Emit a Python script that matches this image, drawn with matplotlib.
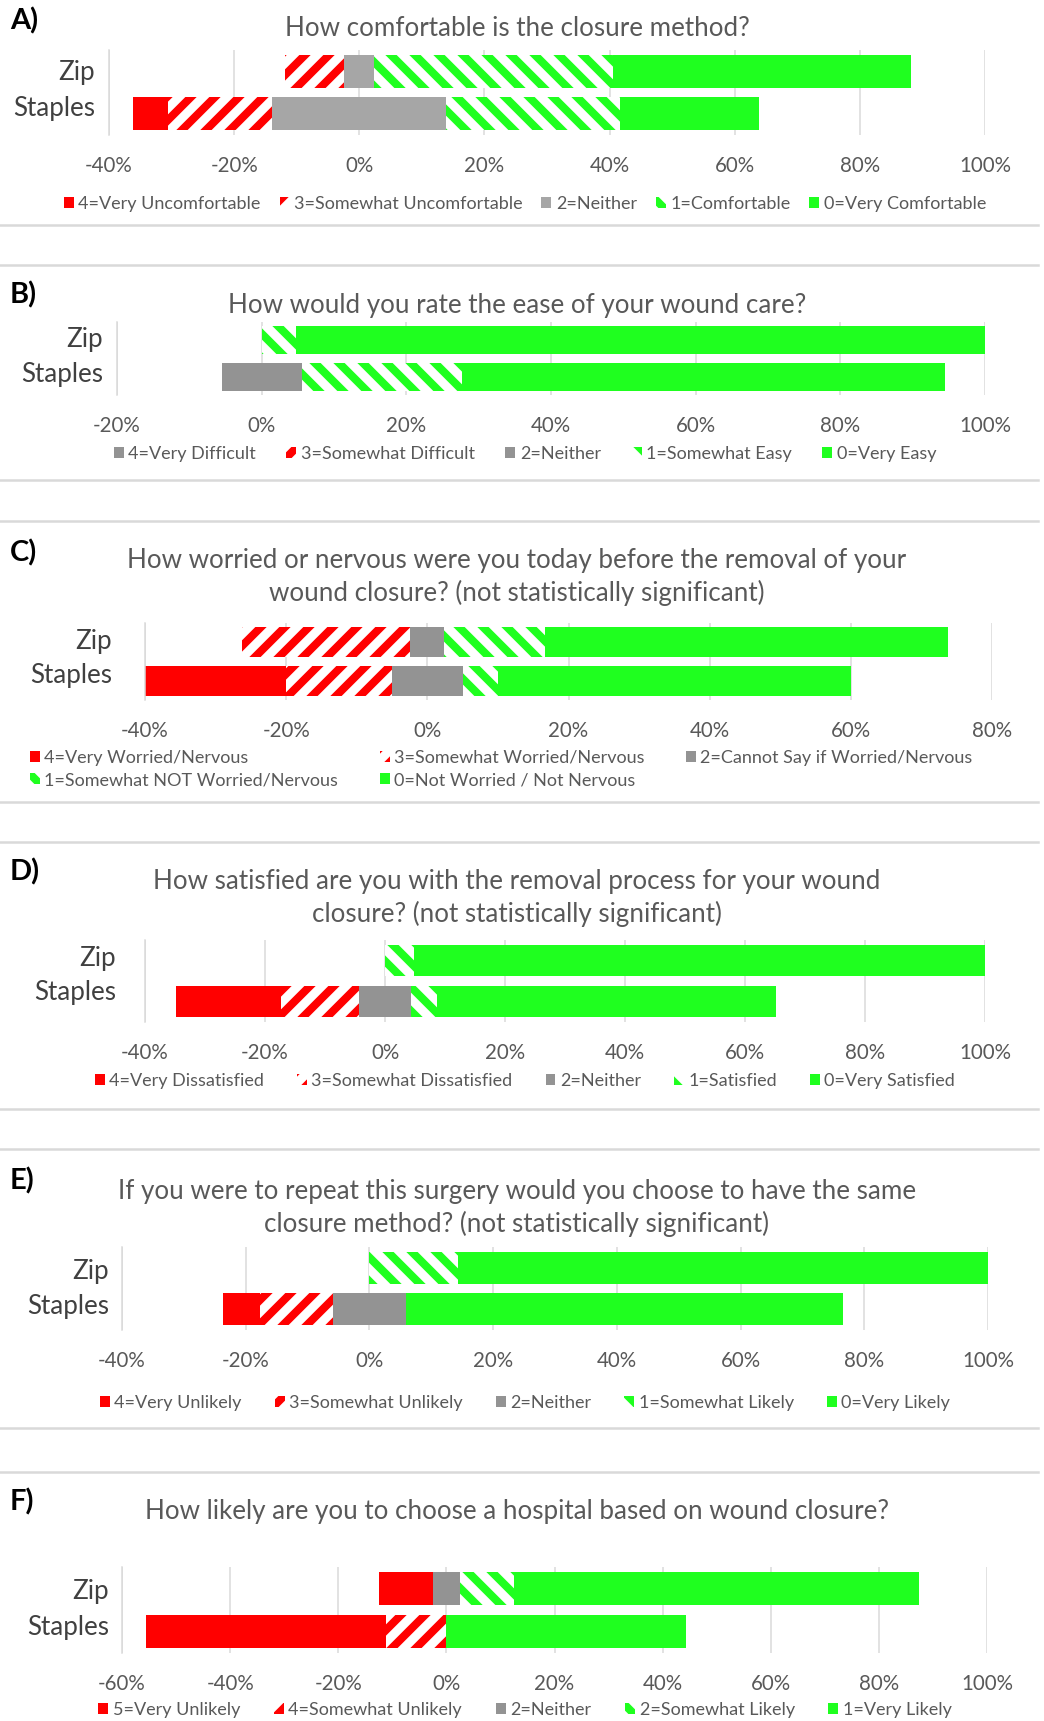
import matplotlib
matplotlib.use("Agg")
import matplotlib.pyplot as plt
from matplotlib.patches import Patch
from matplotlib.lines import Line2D

W, H, DPI = 1044, 1721, 144


def pt(px):
    """pixels -> points at the figure dpi"""
    return px * 72 / DPI


RED = "#FF0000"
GREEN = "#1FFF1F"
GRAY_LIGHT = "#A6A6A6"
GRAY = "#939393"
GRID = "#D9D9D9"
TEXT = "#595959"

# ---- data (percent of respondents per answer; order: worst ... best) ----
a_title = "How comfortable is the closure method?"
a_labels = ["4=Very Uncomfortable", "3=Somewhat Uncomfortable", "2=Neither",
            "1=Comfortable", "0=Very Comfortable"]
a_zip = [0.0, 9.5, 4.8, 38.1, 47.6]
a_staples = [5.6, 16.7, 27.8, 27.8, 22.2]

b_title = "How would you rate the ease of your wound care?"
b_labels = ["4=Very Difficult", "3=Somewhat Difficult", "2=Neither",
            "1=Somewhat Easy", "0=Very Easy"]
b_zip = [0.0, 0.0, 0.0, 4.8, 95.2]
b_staples = [0.0, 0.0, 11.1, 22.2, 66.7]

c_title = ("How worried or nervous were you today before the removal of your\n"
           "wound closure? (not statistically significant)")
c_labels = ["4=Very Worried/Nervous", "3=Somewhat Worried/Nervous",
            "2=Cannot Say if Worried/Nervous", "1=Somewhat NOT Worried/Nervous",
            "0=Not Worried / Not Nervous"]
c_zip = [0.0, 23.8, 4.8, 14.3, 57.1]
c_staples = [20.0, 15.0, 10.0, 5.0, 50.0]

d_title = ("How satisfied are you with the removal process for your wound\n"
           "closure? (not statistically significant)")
d_labels = ["4=Very Dissatisfied", "3=Somewhat Dissatisfied", "2=Neither",
            "1=Satisfied", "0=Very Satisfied"]
d_zip = [0.0, 0.0, 0.0, 4.8, 95.2]
d_staples = [17.4, 13.0, 8.7, 4.3, 56.5]

e_title = ("If you were to repeat this surgery would you choose to have the same\n"
           "closure method? (not statistically significant)")
e_labels = ["4=Very Unlikely", "3=Somewhat Unlikely", "2=Neither",
            "1=Somewhat Likely", "0=Very Likely"]
e_zip = [0.0, 0.0, 0.0, 14.3, 85.7]
e_staples = [5.9, 11.8, 11.8, 0.0, 70.6]

f_title = "How likely are you to choose a hospital based on wound closure?"
f_labels = ["5=Very Unlikely", "4=Somewhat Unlikely", "2=Neither",
            "2=Somewhat Likely", "1=Very Likely"]
f_zip = [10.0, 0.0, 5.0, 10.0, 75.0]
f_staples = [44.4, 11.1, 0.0, 0.0, 44.4]

groups = ["Staples", "Zip"]

plt.rcParams["font.family"] = ["Lato", "DejaVu Sans"]
plt.rcParams["hatch.linewidth"] = pt(8)

fig = plt.figure(figsize=(W / DPI, H / DPI), dpi=DPI)
fig.patch.set_facecolor("white")


def styles(gray, first=RED):
    return [
        dict(facecolor=first, edgecolor=first, linewidth=0),
        dict(facecolor="white", edgecolor=RED, hatch="//", linewidth=0),
        dict(facecolor=gray, edgecolor=gray, linewidth=0),
        dict(facecolor="white", edgecolor=GREEN, hatch="\\\\", linewidth=0),
        dict(facecolor=GREEN, edgecolor=GREEN, linewidth=0),
    ]


def panel(letter, title, labels, zip_vals, staples_vals, xlim, box, sty,
          letter_top, title_y, ypad, label_pos, leg_y, leg_x=525, ncol=5, order=None,
          colspace=1.1, leg_loc="center"):
    l, r, t, b = box
    ax = fig.add_axes([l / W, 1 - b / H, (r - l) / W, (b - t) / H])
    for y, vals in enumerate([staples_vals, zip_vals]):
        left = -(vals[0] + vals[1] + vals[2] / 2)
        for v, st in zip(vals, sty):
            if v > 0:
                ax.barh(y, v, left=left, height=0.77, **st)
            left += v

    ax.set_xlim(*xlim)
    ax.set_ylim(-0.5, 1.5)
    ticks = list(range(xlim[0], xlim[1] + 1, 20))
    ax.set_xticks(ticks, [f"{x}%" for x in ticks])
    # category labels sit a bit closer together than the bars (Excel look)
    ax.set_yticks(label_pos, groups)
    ax.tick_params(axis="x", length=0, pad=pt(21), labelsize=pt(20.5), labelcolor=TEXT)
    ax.tick_params(axis="y", length=0, pad=pt(ypad), labelsize=pt(26), labelcolor="#404040")
    ax.grid(axis="x", color=GRID, linewidth=pt(1.5))
    ax.set_axisbelow(True)
    for s in ["top", "right", "bottom"]:
        ax.spines[s].set_visible(False)
    ax.spines["left"].set_color(GRID)
    ax.spines["left"].set_linewidth(pt(1.5))
    ax.set_facecolor("none")

    fig.text(10 / W, 1 - letter_top / H, letter, ha="left", va="top",
             fontsize=pt(29), fontweight="bold", color="black")
    fig.text(517 / W, 1 - title_y / H, title, ha="center", va="center",
             fontsize=pt(26), color=TEXT, linespacing=1.35)

    handles = [Patch(label=lab, **st) for lab, st in zip(labels, sty)]
    if order:
        handles = [handles[i] for i in order]
    fig.legend(handles=handles, loc=leg_loc, bbox_to_anchor=(leg_x / W, 1 - leg_y / H),
               ncol=ncol, frameon=False, fontsize=pt(18), labelcolor=TEXT,
               handlelength=0.55, handleheight=0.55, handletextpad=0.25,
               columnspacing=colspace, borderaxespad=0, borderpad=0, labelspacing=0.35)


panel("A)", a_title, a_labels, a_zip, a_staples, (-40, 100), (109, 985, 50, 135),
      styles(GRAY_LIGHT), 7, 29, 14, [0.19, 1.03], 204, colspace=1.05)
panel("B)", b_title, b_labels, b_zip, b_staples, (-20, 100), (117, 985, 322, 395),
      styles(GRAY, GRAY), 281, 305, 14, [0.14, 1.08], 454, colspace=1.7)
panel("C)", c_title, c_labels, c_zip, c_staples, (-40, 80), (145, 992, 623, 700),
      styles(GRAY), 539, 577, 33, [0.19, 1.08], 769, leg_x=30, ncol=3,
      order=[0, 3, 1, 4, 2], colspace=2.3, leg_loc="center left")
panel("D)", d_title, d_labels, d_zip, d_staples, (-40, 100), (145, 985, 940, 1022),
      styles(GRAY), 858, 898, 29, [0.27, 1.1], 1081, colspace=1.83)
panel("E)", e_title, e_labels, e_zip, e_staples, (-40, 100), (122, 988, 1247, 1330),
      styles(GRAY), 1167, 1208, 13, [0.12, 0.97], 1403, colspace=1.83)
panel("F)", f_title, f_labels, f_zip, f_staples, (-60, 100), (122, 987, 1567, 1653),
      styles(GRAY), 1488, 1512, 13, [0.16, 0.98], 1710, colspace=1.88)

# light separators between the stacked panels
for y in [225, 265, 480, 521, 802, 842, 1109, 1149, 1428, 1472]:
    fig.add_artist(Line2D([0, 1038 / W], [1 - y / H, 1 - y / H], transform=fig.transFigure,
                          color=GRID, linewidth=pt(2.5)))

fig.savefig("out.png", dpi=DPI)
